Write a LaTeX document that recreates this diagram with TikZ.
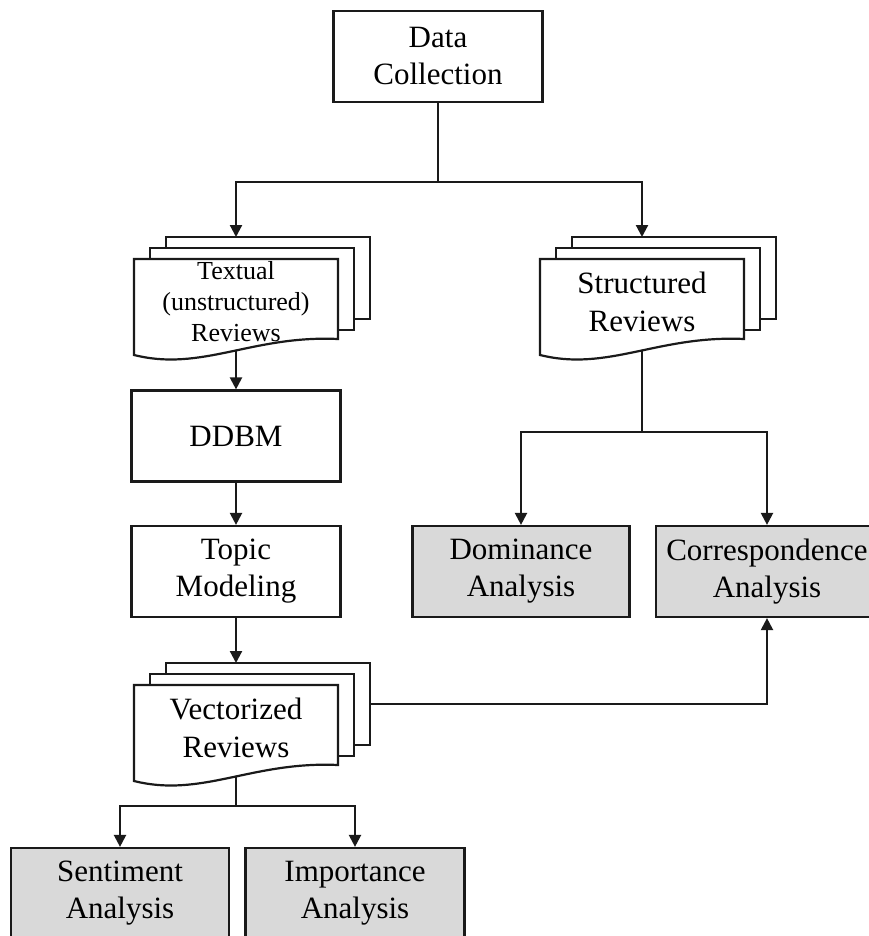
\documentclass[tikz,border=0pt]{standalone}
\usepackage{fontspec}
\setmainfont{Liberation Serif}
\usetikzlibrary{arrows.meta}
\definecolor{flowInk}{HTML}{1A1A1A}
\definecolor{flowShade}{HTML}{D9D9D9}
\tikzset{
  flow box/.style={draw=flowInk, fill=white, line width=2.2pt, minimum width=209pt, minimum height=91pt, inner sep=0pt, align=center, font=\fontsize{31}{37}\selectfont},
  flow result/.style={flow box, fill=flowShade},
  flow page/.style={draw=flowInk, fill=white, line width=2.2pt},
  flow text/.style={inner sep=0pt, align=center, font=\fontsize{31}{38}\selectfont},
  flow arrow/.style={draw=flowInk, line width=2.2pt, -{Triangle[length=12pt,width=12pt]}},
  doc font/.style={},
  pics/docstack/.style={code={
    \draw[flow page] (32,-102) rectangle (236,-20);
    \draw[flow page] (16,-91) rectangle (220,-9);
    \draw[flow page] (0,16) -- (0,-80) -- (204,-80) -- (204,0) .. controls (118,-4) and (68,33) .. (0,16) -- cycle;
    \node[flow text, doc font] (-front) at (102,-37) {#1};
    \coordinate (-in) at (102,-102);
    \coordinate (-out) at (102,12);
    \coordinate (-side) at (236,-61);
  }},
}
\begin{document}
\begin{tikzpicture}[x=1pt,y=-1pt]
  \clip (0,0) rectangle (869,936);
  \node[flow box] (dc) at (438,56.5) {Data\\Collection};
  \pic[doc font/.style={font=\fontsize{26}{31}\selectfont}] (tx) at (134,339) {docstack={Textual\\(unstructured)\\Reviews}};
  \pic (st) at (540,339) {docstack={Structured\\Reviews}};
  \node[flow box] (ddbm) at (236,436) {DDBM};
  \node[flow box] (topic) at (236,571.5) {Topic\\Modeling};
  \node[flow result, minimum width=217pt] (dom) at (521,571.5) {Dominance\\Analysis};
  \node[flow result, minimum width=222pt] (corr) at (767,571.5) {Correspondence\\Analysis};
  \pic (vec) at (134,765) {docstack={Vectorized\\Reviews}};
  \node[flow result, minimum width=218pt] (sent) at (120,893.5) {Sentiment\\Analysis};
  \node[flow result, minimum width=219pt] (imp) at (355,893.5) {Importance\\Analysis};
  % connectors
  \draw[flow arrow] (dc.south) -- ++(0,79) -| (tx-in);
  \draw[flow arrow] (dc.south) -- ++(0,79) -| (st-in);
  \draw[flow arrow] (tx-out) -- (ddbm.north);
  \draw[flow arrow] (ddbm) -- (topic);
  \draw[flow arrow] (topic.south) -- (vec-in);
  \draw[flow arrow] (st-out) -- ++(0,81) -| (dom.north);
  \draw[flow arrow] (st-out) -- ++(0,81) -| (corr.north);
  \draw[flow arrow] (vec-out) -- ++(0,29) -| (sent.north);
  \draw[flow arrow] (vec-out) -- ++(0,29) -| (imp.north);
  \draw[flow arrow] (vec-side) -| (corr.south);
\end{tikzpicture}
\end{document}
